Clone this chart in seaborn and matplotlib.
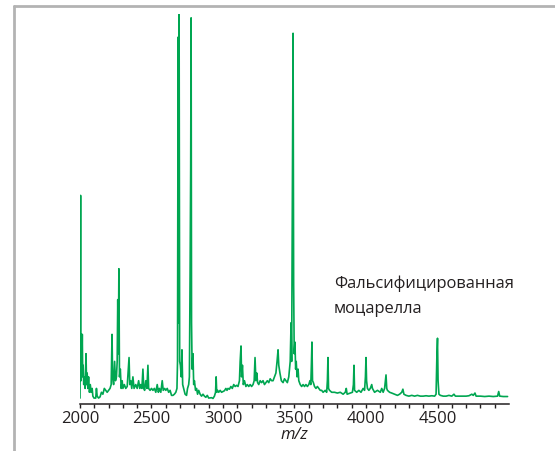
import matplotlib
matplotlib.use("Agg")
import matplotlib.pyplot as plt
from matplotlib.lines import Line2D
import numpy as np
import pandas as pd
import seaborn as sns

# m/z values
mz = [2000, 2004, 2007, 2010, 2013, 2016, 2019, 2022, 2026, 2030, 2036, 2042, 2046,
      2050, 2055, 2060, 2066, 2072, 2078, 2085, 2090, 2098, 2110, 2115, 2120, 2130,
      2140, 2150, 2160, 2170, 2180, 2190, 2200, 2210, 2218, 2224, 2228, 2235, 2242,
      2248, 2255, 2260, 2264, 2268, 2272, 2276, 2282, 2288, 2295, 2300, 2310, 2320,
      2330, 2343, 2348, 2355, 2362, 2370, 2378, 2390, 2400, 2410, 2418, 2425, 2433,
      2440, 2446, 2452, 2460, 2468, 2475, 2480, 2490, 2500, 2510, 2520, 2530, 2540,
      2548, 2555, 2565, 2575, 2582, 2592, 2600, 2610, 2620, 2630, 2640, 2650, 2660,
      2670, 2678, 2682, 2686, 2689, 2693, 2697, 2702, 2708, 2713, 2718, 2725, 2735,
      2745, 2752, 2760, 2765, 2770, 2774, 2777, 2780, 2784, 2790, 2795, 2800, 2808,
      2815, 2822, 2830, 2840, 2850, 2860, 2870, 2880, 2890, 2900, 2920, 2930, 2940,
      2948, 2952, 2956, 2962, 2970, 2980, 2990, 3000, 3010, 3020, 3028, 3035, 3045,
      3055, 3065, 3075, 3085, 3095, 3105, 3115, 3120, 3126, 3130, 3136, 3142, 3150,
      3160, 3170, 3180, 3190, 3200, 3210, 3218, 3224, 3230, 3236, 3242, 3250, 3260,
      3270, 3280, 3290, 3300, 3310, 3320, 3330, 3340, 3350, 3360, 3370, 3378, 3385,
      3390, 3398, 3408, 3420, 3430, 3440, 3450, 3460, 3470, 3476, 3480, 3485, 3490,
      3494, 3498, 3503, 3508, 3512, 3518, 3525, 3530, 3540, 3550, 3560, 3570, 3580,
      3590, 3600, 3608, 3614, 3618, 3622, 3626, 3632, 3640, 3650, 3660, 3670, 3680,
      3690, 3700, 3715, 3725, 3730, 3734, 3738, 3745, 3760, 3780, 3800, 3820, 3840,
      3855, 3862, 3868, 3890, 3905, 3912, 3916, 3920, 3935, 3950, 3965, 3980, 3990,
      3996, 4000, 4004, 4010, 4020, 4030, 4040, 4045, 4060, 4080, 4100, 4110, 4120,
      4130, 4136, 4140, 4145, 4150, 4165, 4180, 4200, 4220, 4235, 4250, 4258, 4265,
      4280, 4300, 4320, 4340, 4360, 4380, 4400, 4420, 4440, 4460, 4480, 4490, 4496,
      4500, 4504, 4510, 4520, 4540, 4560, 4580, 4600, 4615, 4625, 4650, 4680, 4700,
      4720, 4740, 4750, 4762, 4770, 4800, 4830, 4860, 4890, 4920, 4928, 4935, 4960,
      4990]

# relative intensity, %
intensity = [0.5, 53, 5, 17, 8, 17, 6, 9, 4, 6, 3, 12, 4,
             7, 3, 6, 2, 4, 2, 3, 1, 0.5, 0.5, 3, 1, 0.5,
             0.8, 2, 1.5, 3, 2.5, 2, 2.5, 3, 4, 17, 6, 4, 10,
             5, 6, 10, 26, 12, 34, 6, 8, 3, 5, 3, 4, 3,
             3.5, 11, 4, 5, 3, 6, 3, 4, 3, 5, 3, 4, 3,
             8, 3, 2.5, 5, 3, 9, 3, 2.5, 3, 2.5, 3, 2, 4,
             2, 3, 2, 5, 2.5, 3, 2.5, 3, 2, 2.5, 1.2, 1.2, 1.5,
             2, 3, 10, 94, 20, 100, 10, 9, 6, 13, 4, 3, 1.5,
             1.2, 3, 4, 6, 33, 60, 99, 20, 8, 12, 4, 5, 2.5,
             3, 1.5, 2.5, 1.5, 1, 1.5, 1, 0.7, 1.2, 0.5, 0.6, 0.4, 1,
             2, 6, 2, 2.5, 2, 2.5, 2, 2.2, 2.4, 3, 2.5, 3, 2.8,
             3.5, 3, 4, 3.5, 3.8, 3.5, 5, 10, 14, 6, 9, 4, 5,
             3.5, 4, 3.5, 4, 3.5, 4, 5, 11, 5, 7, 4.5, 4, 5,
             4.5, 5, 4, 4.5, 5, 4.5, 5.5, 5, 5, 6, 7, 10, 13,
             9, 7, 5, 4.5, 5.5, 5, 4.5, 6, 10, 20, 10, 51, 95,
             30, 12, 15, 8, 10, 6, 8, 5, 4, 3.5, 4, 3.5, 4,
             3.5, 4, 5, 4, 9, 15, 5, 4.5, 3.5, 3, 3.5, 3, 2.5,
             2.5, 2, 2.5, 2, 5, 11, 3, 2.5, 2, 2, 1.8, 2, 1.5,
             2, 3, 1.5, 1.8, 2, 4, 9, 2.5, 2, 2.5, 2, 3, 2.5,
             6, 11, 5, 3, 2.5, 3, 4, 3, 2, 2.5, 2, 3, 2,
             3, 5, 6.5, 3, 2.5, 2, 1.8, 1.5, 1.2, 1.5, 2, 2.8, 1.5,
             1.2, 1, 1.2, 1, 1.2, 1, 1, 1.1, 1, 1.1, 1, 1.5, 12,
             16, 5, 1.5, 1.2, 1, 1, 1.2, 1, 1.5, 1, 1, 1, 1,
             1.1, 1.5, 1.2, 1.8, 1, 1, 0.9, 1, 0.9, 1, 2.2, 1, 0.9,
             0.9]

major_ticks = [2000, 2500, 3000, 3500, 4000, 4500]
label_lines = ["Фальсифицированная", "моцарелла"]

df = pd.DataFrame({"mz": mz, "intensity": intensity})

sns.set_theme(style="white")
plt.rcParams["font.family"] = ["Open Sans", "DejaVu Sans"]

fig = plt.figure(figsize=(5.55, 4.51), dpi=100)
ax = fig.add_axes([80 / 555, 51 / 451, 429 / 555, 386 / 451])

sns.lineplot(data=df, x="mz", y="intensity", ax=ax, color="#00a651",
             linewidth=1.2, estimator=None, sort=False)

ax.set_xlim(2000, 5000)
ax.set_ylim(0, 100)
ax.set_xticks(major_ticks)
ax.set_xticks(np.arange(2000, 5000, 100), minor=True)
ax.set_yticks([])

for s in ["left", "top", "right"]:
    ax.spines[s].set_visible(False)
ax.spines["bottom"].set_position(("outward", 3))
ax.spines["bottom"].set_color("#231f20")
ax.spines["bottom"].set_linewidth(1.1)

ax.tick_params(axis="x", which="both", direction="out", bottom=True,
               color="#231f20", width=1, labelsize=12, labelcolor="#231f20", pad=2)
ax.tick_params(axis="x", which="major", length=3)
ax.tick_params(axis="x", which="minor", length=3)

ax.set_xlabel("m/z", fontsize=12, fontstyle="italic", color="#231f20", labelpad=0)
ax.set_ylabel("")

# two lines of the annotation, placed by their baselines
for i, line in enumerate(label_lines):
    fig.text(334 / 555, 1 - (288 + 25 * i) / 451, line, fontsize=11.9,
             color="#231f20", ha="left", va="baseline")

# thin grey frame on the top and left edges
fig.add_artist(Line2D([14 / 555, 1], [1 - 6 / 451, 1 - 6 / 451],
                      transform=fig.transFigure, color="#b3b3b3", linewidth=2))
fig.add_artist(Line2D([14 / 555, 14 / 555], [0, 1 - 6 / 451],
                      transform=fig.transFigure, color="#b3b3b3", linewidth=2))

fig.savefig("out.png", dpi=100)
